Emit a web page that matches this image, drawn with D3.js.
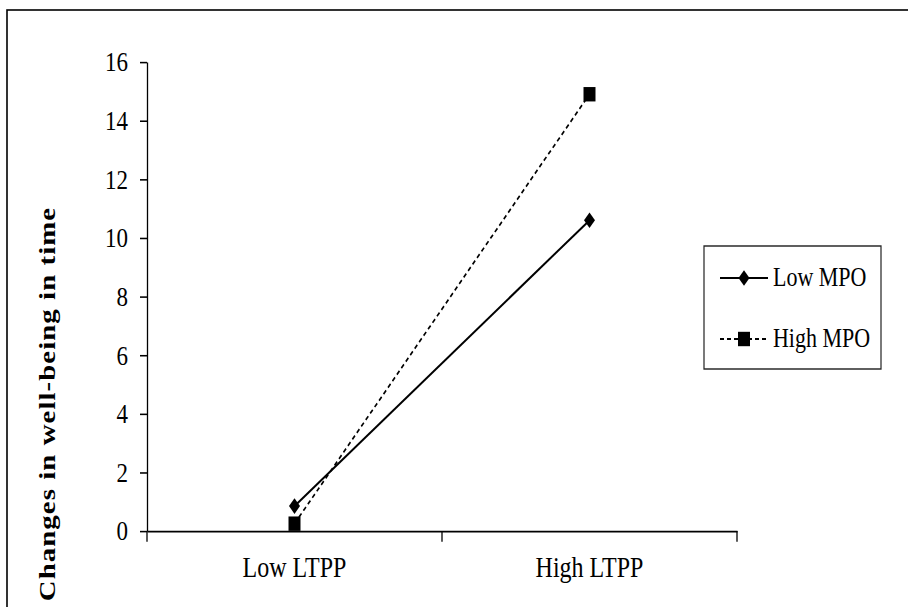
<!DOCTYPE html>
<html>
<head>
<meta charset="utf-8">
<script src="https://cdn.jsdelivr.net/npm/d3@7"></script>
<style>
  body { margin: 0; background: #fff; }
  text { font-family: "Liberation Serif", "Times New Roman", serif; fill: #000; }
</style>
</head>
<body>
<div id="chart"></div>
<script>
const categories = ["Low LTPP", "High LTPP"];
const lowMPO = [0.85, 10.6];
const highMPO = [0.25, 14.9];
const yTicks = [0, 2, 4, 6, 8, 10, 12, 14, 16];
const seriesNames = ["Low MPO", "High MPO"];

const width = 908, height = 607;
// the source picture is stretched vertically, so draw in a squashed space and scale up
const k = 1.2;

const svg = d3.select("#chart").append("svg")
  .attr("width", width)
  .attr("height", height);

// outer frame (only left and top edges visible)
svg.append("rect")
  .attr("x", 7).attr("y", 10)
  .attr("width", 1200).attr("height", 1200)
  .attr("fill", "none")
  .attr("stroke", "#000")
  .attr("stroke-width", 1.6);

const g = svg.append("g").attr("transform", `scale(1, ${k})`);

const x = d3.scaleBand().domain(categories).range([147, 737]);
const y = d3.scaleLinear().domain([0, 16]).range([531 / k, 62 / k]);

// y axis
const yAxis = g.append("g")
  .attr("transform", `translate(${x.range()[0]},0)`)
  .call(d3.axisLeft(y).tickValues(yTicks).tickSize(7).tickSizeOuter(0).tickPadding(12));
yAxis.selectAll("path, line").attr("stroke", "#000").attr("stroke-width", 1.3);
yAxis.selectAll("text").style("font-size", "23px");

// x axis
const xAxis = g.append("g")
  .attr("transform", `translate(0,${y(0)})`)
  .call(d3.axisBottom(x).tickSize(0).tickSizeOuter(0).tickPadding(21));
xAxis.select("path").attr("stroke", "#000").attr("stroke-width", 1.6);
xAxis.selectAll("text").style("font-size", "24px");

// category boundary ticks
xAxis.selectAll(".bound")
  .data(d3.range(categories.length + 1))
  .enter().append("line")
  .attr("class", "bound")
  .attr("x1", i => x.range()[0] + i * x.step())
  .attr("x2", i => x.range()[0] + i * x.step())
  .attr("y1", 0).attr("y2", 9)
  .attr("stroke", "#000").attr("stroke-width", 1.3);

// y axis title
g.append("text")
  .attr("transform", `translate(55,${404 / k}) rotate(-90)`)
  .attr("text-anchor", "middle")
  .style("font-size", "24px")
  .style("font-weight", "bold")
  .style("letter-spacing", "0.9px")
  .text("Changes in well-being in time");

const line = d3.line()
  .x((d, i) => x(categories[i]) + x.bandwidth() / 2)
  .y(d => y(d));

const diamond = "M0,-6.5L5.5,0L0,6.5L-5.5,0Z";
const square = "M-6,-6H6V6H-6Z";

// Low MPO (solid, diamonds)
g.append("path").datum(lowMPO)
  .attr("d", line)
  .attr("fill", "none").attr("stroke", "#000").attr("stroke-width", 1.8);
g.selectAll(".dia").data(lowMPO).enter().append("path")
  .attr("class", "dia")
  .attr("d", diamond)
  .attr("transform", (d, i) => `translate(${x(categories[i]) + x.bandwidth() / 2},${y(d)})`)
  .attr("fill", "#000");

// High MPO (dashed, squares)
g.append("path").datum(highMPO)
  .attr("d", line)
  .attr("fill", "none").attr("stroke", "#000").attr("stroke-width", 1.6)
  .attr("stroke-dasharray", "4,3");
g.selectAll(".sq").data(highMPO).enter().append("path")
  .attr("class", "sq")
  .attr("d", square)
  .attr("transform", (d, i) => `translate(${x(categories[i]) + x.bandwidth() / 2},${y(d)})`)
  .attr("fill", "#000");

// legend
const legend = g.append("g");
legend.append("rect")
  .attr("x", 704).attr("y", 246 / k)
  .attr("width", 177).attr("height", (369 - 246) / k)
  .attr("fill", "#fff").attr("stroke", "#222").attr("stroke-width", 1.2);

const rows = [278 / k, 339 / k];
seriesNames.forEach((name, i) => {
  const row = legend.append("g").attr("transform", `translate(0,${rows[i]})`);
  row.append("line")
    .attr("x1", 720).attr("x2", 768).attr("y1", 0).attr("y2", 0)
    .attr("stroke", "#000").attr("stroke-width", i === 0 ? 1.8 : 1.6)
    .attr("stroke-dasharray", i === 0 ? null : "4,3");
  row.append("path")
    .attr("d", i === 0 ? diamond : square)
    .attr("transform", "translate(744,0)")
    .attr("fill", "#000");
  row.append("text")
    .attr("x", 773).attr("dy", "0.32em")
    .style("font-size", "22px")
    .text(name);
});
</script>
</body>
</html>
